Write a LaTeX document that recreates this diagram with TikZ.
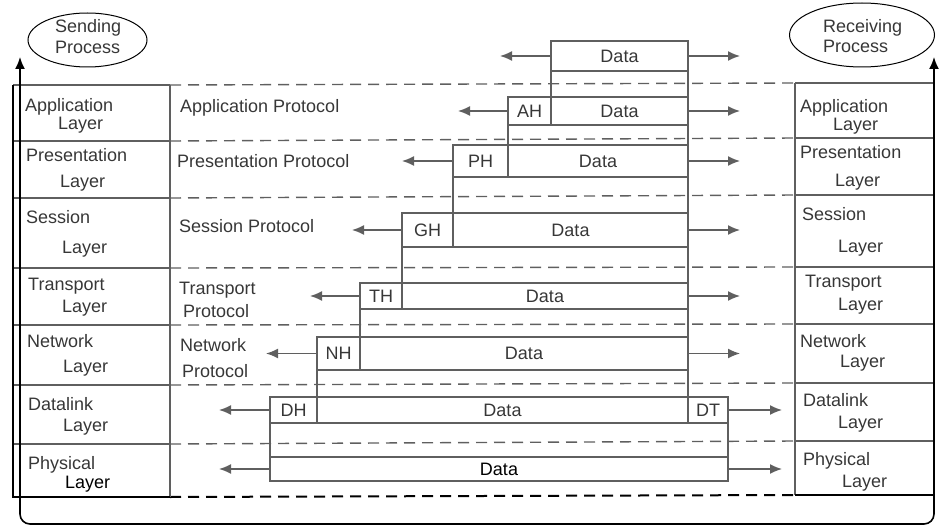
\documentclass[tikz,border=0pt]{standalone}
\usepackage{fontspec}
\setmainfont{Liberation Sans}
\usetikzlibrary{arrows.meta,shapes.geometric}
\definecolor{lg}{RGB}{95,95,95}
\definecolor{tx}{RGB}{55,55,55}
\begin{document}
\begin{tikzpicture}[x=1pt,y=-1pt,
  lab/.style={font=\fontsize{18}{20}\selectfont, text=tx, inner sep=0, anchor=base west},
  pdu/.style={draw=lg, line width=1.4pt, inner sep=0, outer sep=0, font=\fontsize{18}{20}\selectfont, text=tx},
  sep/.style={draw=lg, line width=1.4pt},
  dsh/.style={draw=lg, line width=1.4pt, dash pattern=on 11pt off 7pt},
  arr/.style={draw=lg, line width=1.5pt, -{Latex[length=12pt,width=10pt]}}
]
\useasboundingbox (0,0) rectangle (940,527);

% dashed protocol separators
\foreach \a/\b in {85/83,141/138,198/195,268/267,325/324,385/383,444/441}
  \draw[dsh] (170,\a) -- (795,\b);
\draw[dsh, draw=black, line width=2pt] (170,497) -- (795,495);

% left stack
\foreach \y in {85,141,198,268,325,385,444} \draw[sep] (13,\y) -- (170,\y);
\draw[sep] (170,85) -- (170,497);
\draw[line width=2.2pt] (13,85) -- (13,497) -- (170,497);

% right stack
\foreach \y in {83,138,195,267,324,383,441} \draw[sep] (795,\y) -- (934,\y);
\draw[sep] (795,83) -- (795,495);
\draw[line width=2.2pt] (795,495) -- (934,495) -- (934,83);

% processes
\node[draw, ellipse, line width=1pt, minimum width=119pt, minimum height=54pt, inner sep=0] (send) at (87.5,40) {};
\node[draw, ellipse, line width=1pt, minimum width=145pt, minimum height=64pt, inner sep=0] (recv) at (862,35) {};
\node[lab] (s1) at (55,33) {Sending};
\node[lab] (s2) at (55,54) {Process};
\node[lab] (r1) at (823,33) {Receiving};
\node[lab] (r2) at (823,53) {Process};

% loop
\coordinate (lt) at (20,57);
\coordinate (lb) at (20,524);
\coordinate (rb) at (934,524);
\coordinate (rt) at (934,57);
\draw[line width=1.6pt, rounded corners=10pt, {Latex[length=12pt,width=10pt]}-{Latex[length=12pt,width=10pt]}] (lt) -- (lb) -- (rb) -- (rt);

% layer labels left
\node[lab] (la1) at (25,111) {Application};  \node[lab] (lb1) at (58,129) {Layer};
\node[lab] (la2) at (26,161) {Presentation}; \node[lab] (lb2) at (60,187) {Layer};
\node[lab] (la3) at (26,223) {Session};      \node[lab] (lb3) at (62,253) {Layer};
\node[lab] (la4) at (28,290) {Transport};    \node[lab] (lb4) at (62,312) {Layer};
\node[lab] (la5) at (27,347) {Network};      \node[lab] (lb5) at (63,372) {Layer};
\node[lab] (la6) at (28,410) {Datalink};     \node[lab] (lb6) at (63,431) {Layer};
\node[lab] (la7) at (28,469) {Physical};     \node[lab, text=black] (lb7) at (65,488) {Layer};

% layer labels right
\node[lab] (ra1) at (800,112) {Application};  \node[lab] (rb1) at (833,130) {Layer};
\node[lab] (ra2) at (800,158) {Presentation}; \node[lab] (rb2) at (835,186) {Layer};
\node[lab] (ra3) at (802,220) {Session};      \node[lab] (rb3) at (838,252) {Layer};
\node[lab] (ra4) at (805,287) {Transport};    \node[lab] (rb4) at (838,310) {Layer};
\node[lab] (ra5) at (800,347) {Network};      \node[lab] (rb5) at (840,367) {Layer};
\node[lab] (ra6) at (803,406) {Datalink};     \node[lab] (rb6) at (838,428) {Layer};
\node[lab] (ra7) at (803,465) {Physical};     \node[lab] (rb7) at (842,487) {Layer};

% protocol labels
\node[lab] (p1) at (180,113) {Application Protocol};
\node[lab] (p2) at (177,167) {Presentation Protocol};
\node[lab] (p3) at (179,232) {Session Protocol};
\node[lab] (p4a) at (179,294) {Transport};
\node[lab] (p4b) at (183,317) {Protocol};
\node[lab] (p5a) at (180,351) {Network};
\node[lab] (p5b) at (182,377) {Protocol};

% PDU boxes
\node[pdu, minimum width=137pt, minimum height=30pt] (d0) at (619.5,56) {Data};
\node[pdu, minimum width=43pt,  minimum height=28pt] (h1) at (529.5,111) {AH};
\node[pdu, minimum width=137pt, minimum height=28pt] (d1) at (619.5,111) {Data};
\node[pdu, minimum width=55pt,  minimum height=32pt] (h2) at (480.5,161) {PH};
\node[pdu, minimum width=180pt, minimum height=32pt] (d2) at (598,161) {Data};
\node[pdu, minimum width=51pt,  minimum height=34pt] (h3) at (427.5,230) {GH};
\node[pdu, minimum width=235pt, minimum height=34pt] (d3) at (570.5,230) {Data};
\node[pdu, minimum width=42pt,  minimum height=26pt] (h4) at (381,296) {TH};
\node[pdu, minimum width=286pt, minimum height=26pt] (d4) at (545,296) {Data};
\node[pdu, minimum width=43pt,  minimum height=33pt] (h5) at (338.5,353.5) {NH};
\node[pdu, minimum width=328pt, minimum height=33pt] (d5) at (524,353.5) {Data};
\node[pdu, minimum width=47pt,  minimum height=26pt] (h6) at (293.5,410) {DH};
\node[pdu, minimum width=371pt, minimum height=26pt] (d6) at (502.5,410) {Data};
\node[pdu, minimum width=40pt,  minimum height=26pt] (t6) at (708,410) {DT};
\node[pdu, minimum width=458pt, minimum height=24pt, text=black] (d7) at (499,469) {Data};

% frame lines joining the encapsulations
\draw[sep] (d0.south west) -- (d1.north west);
\draw[sep] (h1.south west) -- (d2.north west);
\draw[sep] (h2.south west) -- (d3.north west);
\draw[sep] (h3.south west) -- (d4.north west);
\draw[sep] (h4.south west) -- (d5.north west);
\draw[sep] (h5.south west) -- (d6.north west);
\draw[sep] (h6.south west) -- (d7.north west);
\draw[sep] (d0.south east) -- (d6.north east);
\draw[sep] (t6.south east) -- (d7.north east);

% left arrows
\coordinate (l0) at (500,56);   \draw[arr] (d0.west) -- (l0);
\coordinate (l1) at (458,111);  \draw[arr] (h1.west) -- (l1);
\coordinate (l2) at (402,161);  \draw[arr] (h2.west) -- (l2);
\coordinate (l3) at (352,230);  \draw[arr] (h3.west) -- (l3);
\coordinate (l4) at (310,296);  \draw[arr] (h4.west) -- (l4);
\coordinate (l5) at (266,353.5);\draw[arr] (h5.west) -- (l5);
\coordinate (l6) at (219,410);  \draw[arr] (h6.west) -- (l6);
\coordinate (l7) at (219,469);  \draw[arr] (d7.west) -- (l7);
% right arrows
\coordinate (q0) at (740,56);   \draw[arr] (d0.east) -- (q0);
\coordinate (q1) at (740,111);  \draw[arr] (d1.east) -- (q1);
\coordinate (q2) at (740,161);  \draw[arr] (d2.east) -- (q2);
\coordinate (q3) at (740,230);  \draw[arr] (d3.east) -- (q3);
\coordinate (q4) at (740,296);  \draw[arr] (d4.east) -- (q4);
\coordinate (q5) at (740,353.5);\draw[arr] (d5.east) -- (q5);
\coordinate (q6) at (782,410);  \draw[arr] (t6.east) -- (q6);
\coordinate (q7) at (782,469);  \draw[arr] (d7.east) -- (q7);
\end{tikzpicture}
\end{document}
